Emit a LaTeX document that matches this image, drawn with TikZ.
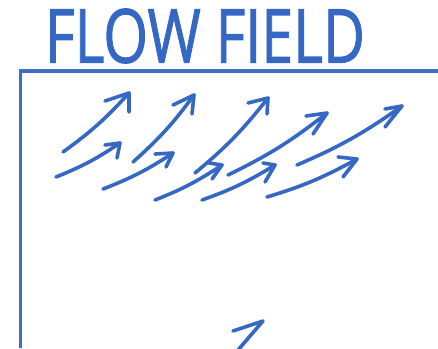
\documentclass[tikz,border=0pt]{standalone}
\usepackage{fontspec}
\usepackage{graphicx}
\newfontfamily\titlefont[FakeBold=1.5]{Open Sans}
\definecolor{inkblue}{RGB}{52,104,196}
\definecolor{boxblue}{RGB}{62,110,196}
\tikzset{
  arr/.style={draw=inkblue, line width=3.6bp, line cap=round, line join=round},
  boxline/.style={draw=boxblue, line width=3.4bp},
  titletext/.style={text=inkblue, inner sep=0pt}
}
\newcommand\flowarrow[4]{%
  \draw[arr] #1 to[bend right=6] #2;
  \draw[arr] #3 -- #2 -- #4;
}
\begin{document}
\begin{tikzpicture}[x=1bp,y=-1bp]
\useasboundingbox (0,0) rectangle (438,348);
% title
\node[titletext] (title) at (205,36) {\resizebox{320bp}{54bp}{\titlefont FLOW FIELD}};
% frame
\coordinate (frameTR) at (438,71);
\coordinate (frameTL) at (20.5,71);
\coordinate (frameBL) at (20.5,348);
\draw[boxline] (frameTR) -- (frameTL) -- (frameBL);
% arrows: tail, tip, barb1, barb2
\flowarrow{(63,152)}{(129,93)}{(105,101)}{(129,112)}
\flowarrow{(56,177)}{(120,143)}{(105,145)}{(117,158)}
\flowarrow{(133,162)}{(194,95)}{(173,105)}{(192,114)}
\flowarrow{(103,189)}{(173,153)}{(155,154)}{(166,167)}
\flowarrow{(195,173)}{(268,98)}{(248,103)}{(267,114)}
\flowarrow{(155,200)}{(222,165)}{(209,163)}{(212,179)}
\flowarrow{(202,200)}{(275,165)}{(263,163)}{(265,182)}
\flowarrow{(228,175)}{(327,113)}{(306,116)}{(313,134)}
\flowarrow{(297,165)}{(402,106)}{(385,109)}{(385,127)}
\flowarrow{(267,197)}{(357,159)}{(338,157)}{(343,177)}
\draw[arr] (238,350) -- (263,321) -- (233,331);
\end{tikzpicture}
\end{document}
